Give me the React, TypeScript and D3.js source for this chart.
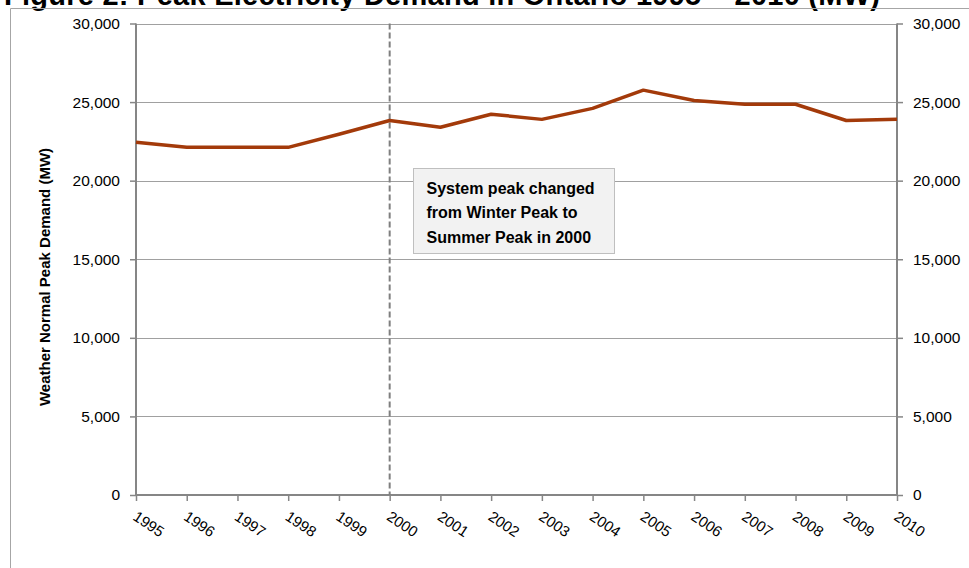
import React, { useEffect, useRef } from 'react'
import * as d3 from 'd3'

const years = ['1995', '1996', '1997', '1998', '1999', '2000', '2001', '2002', '2003', '2004', '2005', '2006', '2007', '2008', '2009', '2010']
const demand = [22450, 22120, 22120, 22120, 22950, 23830, 23400, 24230, 23900, 24600, 25760, 25100, 24860, 24860, 23830, 23900]
const yTicks = [0, 5000, 10000, 15000, 20000, 25000, 30000]
const changeYear = '2000'
const noteLines = ['System peak changed', 'from Winter Peak to', 'Summer Peak in 2000']
const title = 'Figure 2: Peak Electricity Demand in Ontario 1995 \u2013 2010 (MW)'
const yLabel = 'Weather Normal Peak Demand (MW)'

const App: React.FC = () => {
  const svgRef = useRef<SVGSVGElement>(null)

  useEffect(() => {
    if (!svgRef.current) return
    const svg = d3.select(svgRef.current)
    svg.selectAll('*').remove()

    const W = 969
    const H = 568
    const left = 136
    const right = 897
    const top = 23.5
    const bottom = 495
    const font = '"Liberation Sans", Arial, sans-serif'

    svg.attr('width', W).attr('height', H)

    const x = d3.scalePoint<string>().domain(years).range([left, right])
    const y = d3.scaleLinear().domain([0, 30000]).range([bottom, top])
    const fmt = d3.format(',')

    // title, clipped at the top of the frame
    svg.append('text')
      .attr('x', 4)
      .attr('y', 5)
      .attr('textLength', 876)
      .style('font-family', font)
      .style('font-weight', 'bold')
      .style('font-size', '29px')
      .style('fill', '#000')
      .text(title)

    // outer chart frame
    svg.append('path')
      .attr('d', `M10.5,${H}V8.5H${W}`)
      .attr('fill', 'none')
      .attr('stroke', '#a6a6a6')
      .attr('stroke-width', 1)

    // gridlines
    svg.append('g')
      .selectAll('line')
      .data(yTicks.filter(t => t > 0))
      .join('line')
      .attr('x1', left)
      .attr('x2', right)
      .attr('y1', d => Math.round(y(d)) + 0.5)
      .attr('y2', d => Math.round(y(d)) + 0.5)
      .attr('stroke', '#a0a0a0')
      .attr('stroke-width', 1.2)

    // left axis
    const leftAxis = svg.append('g')
      .attr('transform', `translate(${left},0)`)
      .call(d3.axisLeft(y).tickValues(yTicks).tickFormat(d => fmt(d as number)).tickSize(6).tickPadding(10))
    leftAxis.select('.domain').remove()
    leftAxis.selectAll('line').attr('stroke', '#868686').attr('stroke-width', 1.5)
    leftAxis.selectAll('text')
      .style('font-family', font)
      .style('font-size', '15.5px')
      .attr('fill', '#000')

    // right axis
    const rightAxis = svg.append('g')
      .attr('transform', `translate(${right},0)`)
      .call(d3.axisRight(y).tickValues(yTicks).tickFormat(d => fmt(d as number)).tickSize(6).tickPadding(10))
    rightAxis.select('.domain').remove()
    rightAxis.selectAll('line').attr('stroke', '#868686').attr('stroke-width', 1.5)
    rightAxis.selectAll('text')
      .style('font-family', font)
      .style('font-size', '15.5px')
      .attr('fill', '#000')

    // vertical axis lines
    svg.append('line')
      .attr('x1', left).attr('x2', left)
      .attr('y1', top).attr('y2', bottom)
      .attr('stroke', '#868686').attr('stroke-width', 2)
    svg.append('line')
      .attr('x1', right).attr('x2', right)
      .attr('y1', top).attr('y2', bottom)
      .attr('stroke', '#868686').attr('stroke-width', 2)

    // bottom axis
    const xAxis = svg.append('g')
      .attr('transform', `translate(0,${bottom})`)
      .call(d3.axisBottom(x).tickSize(6).tickFormat(() => ''))
    xAxis.select('.domain')
      .attr('d', `M${left},0H${right}`)
      .attr('stroke', '#868686')
      .attr('stroke-width', 2)
    xAxis.selectAll('line').attr('stroke', '#868686').attr('stroke-width', 1.5)

    svg.append('g')
      .selectAll('text')
      .data(years)
      .join('text')
      .attr('transform', d => `translate(${(x(d) as number) - 4},${bottom + 24}) rotate(34)`)
      .style('font-family', font)
      .style('font-size', '15px')
      .attr('fill', '#000')
      .text(d => d)

    // dashed marker at the winter -> summer change
    svg.append('line')
      .attr('x1', x(changeYear) as number)
      .attr('x2', x(changeYear) as number)
      .attr('y1', top)
      .attr('y2', bottom)
      .attr('stroke', '#7f7f7f')
      .attr('stroke-width', 2)
      .attr('stroke-dasharray', '6,3')

    // y axis title
    svg.append('text')
      .attr('transform', `translate(50,277) rotate(-90)`)
      .attr('text-anchor', 'middle')
      .style('font-family', font)
      .style('font-weight', 'bold')
      .style('font-size', '15px')
      .attr('fill', '#000')
      .text(yLabel)

    // data line
    const line = d3.line<number>()
      .x((_, i) => x(years[i]) as number)
      .y(d => y(d))
    svg.append('path')
      .datum(demand)
      .attr('fill', 'none')
      .attr('stroke', '#a33a0a')
      .attr('stroke-width', 3.5)
      .attr('stroke-linejoin', 'round')
      .attr('d', line)

    // annotation box
    const note = svg.append('g').attr('transform', 'translate(413.5,168.5)')
    note.append('rect')
      .attr('width', 201)
      .attr('height', 85)
      .attr('fill', '#f2f2f2')
      .attr('stroke', '#bfbfbf')
      .attr('stroke-width', 1)
    note.selectAll('text')
      .data(noteLines)
      .join('text')
      .attr('x', 13)
      .attr('y', (_, i) => 25 + i * 24.5)
      .style('font-family', font)
      .style('font-weight', 'bold')
      .style('font-size', '16px')
      .attr('fill', '#000')
      .text(d => d)
  }, [])

  return (
    <svg ref={svgRef} style={{ position: 'absolute', left: 0, top: 0, background: '#fff' }} />
  )
}

export default App
